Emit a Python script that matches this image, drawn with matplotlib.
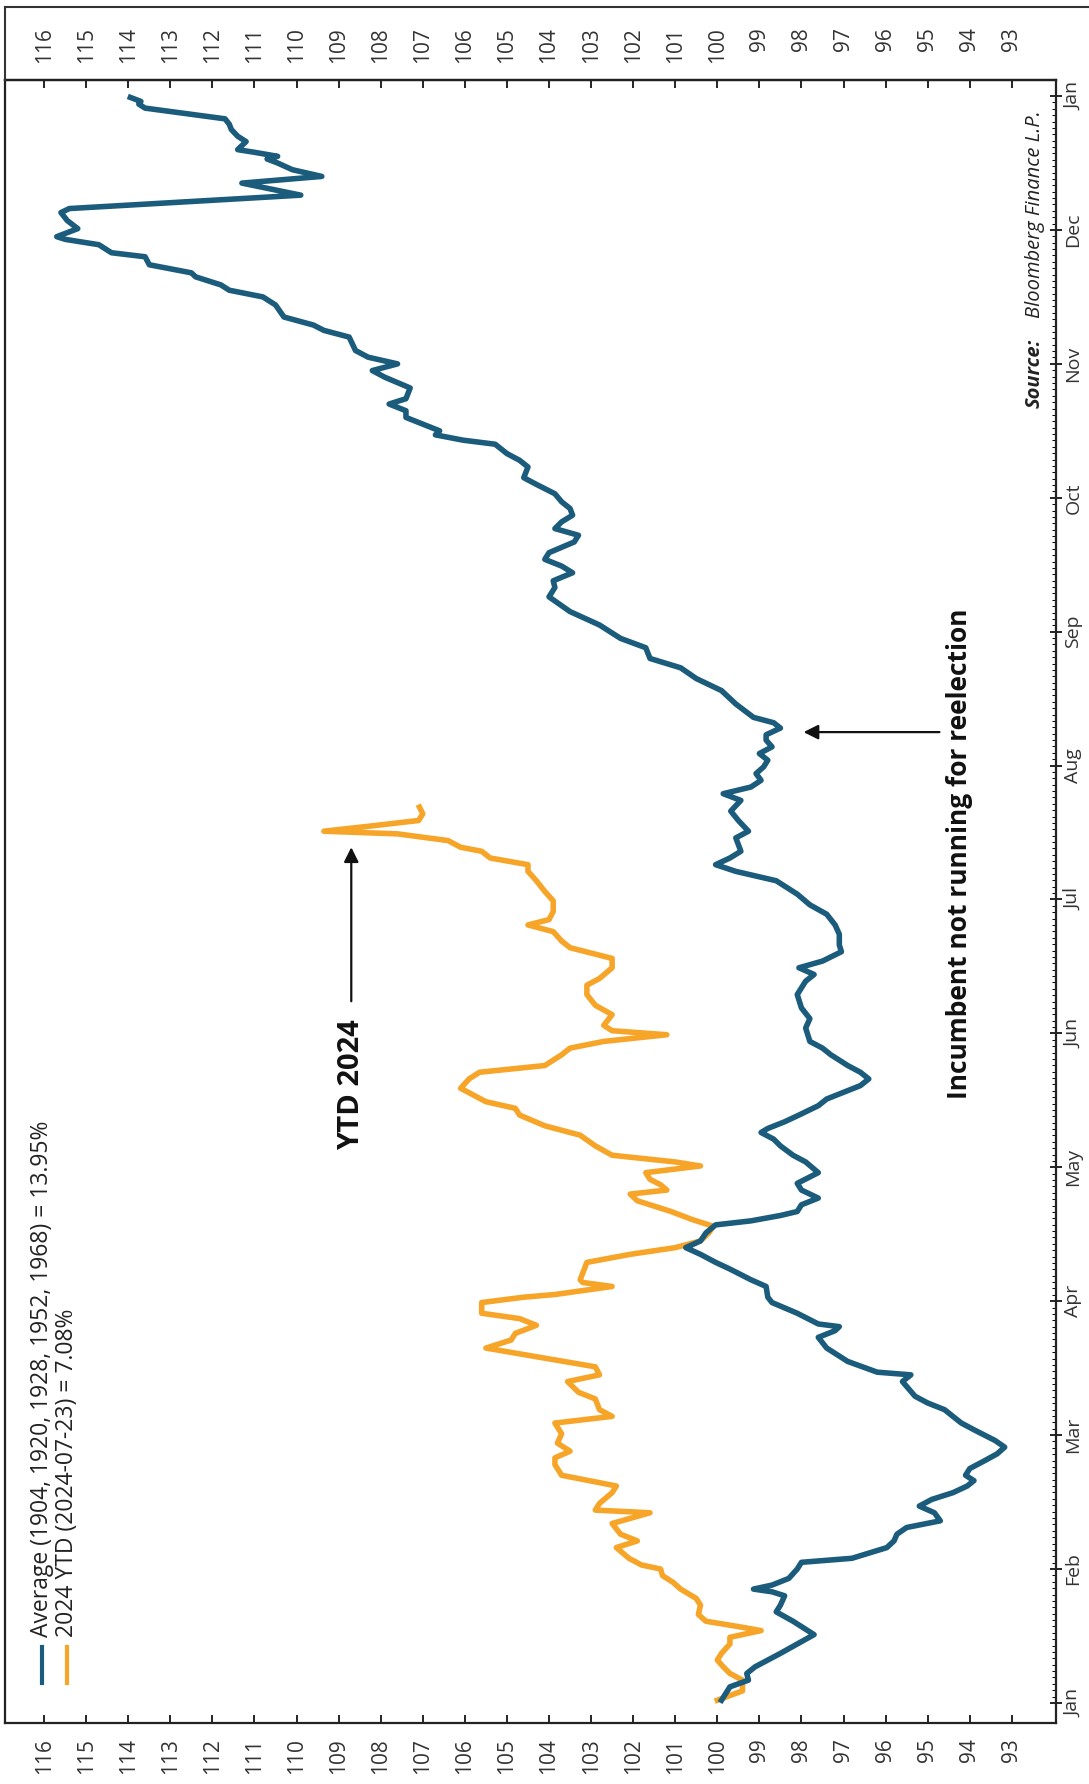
import matplotlib
matplotlib.use("Agg")
import matplotlib.pyplot as plt
from matplotlib.lines import Line2D
import numpy as np

plt.rcParams["font.family"] = ["Open Sans", "DejaVu Sans"]

# months along the (rotated) time axis, 0 = Jan 1st, 12 = next Jan 1st
month_labels = ["Jan", "Feb", "Mar", "Apr", "May", "Jun", "Jul",
                "Aug", "Sep", "Oct", "Nov", "Dec", "Jan"]
value_ticks = list(range(93, 117))

# average of years where the incumbent did not run (month position, index level)
avg_month = [
    0.02, 0.12, 0.17, 0.22, 0.27, 0.37, 0.44, 0.51, 0.55, 0.61, 0.68, 0.73,
    0.80, 0.83, 0.85, 0.88, 0.93, 1.00, 1.05, 1.08, 1.16, 1.21, 1.26, 1.31,
    1.36, 1.42, 1.47, 1.52, 1.57, 1.62, 1.66, 1.70, 1.75, 1.81, 1.86, 1.91,
    1.96, 2.04, 2.09, 2.14, 2.19, 2.24, 2.29, 2.40, 2.45, 2.47, 2.55, 2.65,
    2.73, 2.78, 2.81, 2.83, 2.91, 2.99, 3.03, 3.11, 3.16, 3.24, 3.29, 3.35,
    3.40, 3.45, 3.51, 3.57, 3.60, 3.64, 3.67, 3.72, 3.77, 3.83, 3.88, 3.96,
    4.04, 4.09, 4.16, 4.21, 4.26, 4.29, 4.34, 4.39, 4.46, 4.51, 4.56, 4.61,
    4.66, 4.71, 4.76, 4.84, 4.89, 4.94, 5.04, 5.11, 5.19, 5.29, 5.39, 5.44,
    5.49, 5.54, 5.61, 5.66, 5.74, 5.81, 5.89, 5.96, 6.04, 6.14, 6.21, 6.26,
    6.31, 6.36, 6.46, 6.51, 6.59, 6.66, 6.74, 6.79, 6.84, 6.89, 6.94, 6.99,
    7.04, 7.09, 7.14, 7.19, 7.23, 7.28, 7.32, 7.36, 7.46, 7.56, 7.65, 7.73,
    7.80, 7.88, 7.95, 8.05, 8.15, 8.26, 8.33, 8.38, 8.44, 8.49, 8.54, 8.59,
    8.67, 8.72, 8.77, 8.82, 8.87, 8.92, 8.97, 9.03, 9.10, 9.15, 9.23, 9.28,
    9.33, 9.40, 9.43, 9.47, 9.50, 9.60, 9.65, 9.70, 9.74, 9.82, 9.90, 9.95,
    10.00, 10.05, 10.10, 10.20, 10.25, 10.29, 10.35, 10.44, 10.50, 10.55,
    10.59, 10.65, 10.68, 10.74, 10.80, 10.83, 10.89, 10.93, 10.95, 11.01,
    11.07, 11.13, 11.16, 11.26, 11.35, 11.40, 11.45, 11.50, 11.53, 11.55,
    11.58, 11.60, 11.66, 11.70, 11.75, 11.79, 11.83, 11.87, 11.91, 11.94,
    11.96, 11.99,
]
avg_value = [
    99.9, 99.7, 99.26, 99.3, 99.1, 98.5, 98.1, 97.7, 97.9, 98.2, 98.6, 98.5,
    98.4, 98.7, 99.14, 98.7, 98.3, 98.1, 98.0, 96.8, 95.97, 95.8, 95.73, 95.5,
    94.7, 94.84, 95.2, 94.9, 94.4, 94.06, 93.9, 94.1, 94.0, 93.64, 93.35, 93.17,
    93.4, 93.9, 94.2, 94.4, 94.6, 95.0, 95.3, 95.6, 95.4, 96.2, 96.9, 97.4,
    97.6, 97.2, 97.1, 97.6, 98.1, 98.7, 98.8, 98.84, 99.2, 99.7, 100.04, 100.4,
    100.75, 100.4, 100.27, 100.04, 99.2, 98.5, 98.1, 98.0, 97.6, 98.0, 98.1, 97.6,
    97.9, 98.2, 98.5, 98.66, 98.96, 98.8, 98.4, 98.06, 97.6, 97.4, 97.0, 96.6,
    96.4, 96.6, 96.9, 97.3, 97.5, 97.8, 97.9, 97.8, 98.0, 98.1, 97.9, 97.7,
    98.06, 97.5, 97.05, 97.1, 97.1, 97.2, 97.4, 97.8, 98.1, 98.6, 99.56, 100.04,
    99.7, 99.44, 99.56, 99.26, 99.5, 99.68, 99.44, 99.86, 99.2, 98.96, 99.08, 98.9,
    98.8, 99.0, 98.7, 98.84, 98.84, 98.5, 98.66, 99.14, 99.56, 99.9, 100.5, 100.87,
    101.6, 101.7, 102.3, 102.8, 103.5, 104.0, 103.86, 103.9, 103.44, 103.7, 104.1, 104.0,
    103.4, 103.3, 103.86, 103.7, 103.44, 103.5, 103.7, 103.86, 104.3, 104.6, 104.5, 104.7,
    105.0, 105.28, 106.04, 106.7, 106.6, 107.4, 107.4, 107.8, 107.4, 107.3, 107.9, 108.2,
    107.6, 108.3, 108.6, 108.75, 109.35, 109.6, 110.3, 110.5, 110.8, 111.6,
    111.8, 112.4, 112.5, 113.5, 113.6, 114.4, 114.7, 115.5, 115.7, 115.2,
    115.45, 115.6, 115.4, 109.9, 111.3, 109.4, 110.1, 110.45, 110.7, 110.45,
    111.0, 111.4, 111.2, 111.4, 111.55, 111.6, 111.7, 112.65, 113.6, 113.75,
    113.7, 113.95,
]

# 2024 year to date (month position, index level)
ytd_month = [
    0.02, 0.09, 0.13, 0.17, 0.22, 0.27, 0.32, 0.37, 0.44, 0.49, 0.54, 0.57,
    0.61, 0.66, 0.73, 0.78, 0.85, 0.90, 0.95, 1.00, 1.03, 1.08, 1.16, 1.21,
    1.26, 1.34, 1.42, 1.44, 1.49, 1.57, 1.62, 1.70, 1.78, 1.83, 1.88, 1.94,
    2.01, 2.09, 2.14, 2.19, 2.27, 2.32, 2.40, 2.45, 2.51, 2.58, 2.65, 2.71,
    2.76, 2.82, 2.87, 2.91, 2.99, 3.03, 3.05, 3.11, 3.14, 3.16, 3.29, 3.35,
    3.40, 3.45, 3.51, 3.56, 3.61, 3.67, 3.75, 3.80, 3.83, 3.87, 3.91, 3.96,
    4.01, 4.04, 4.09, 4.16, 4.24, 4.31, 4.39, 4.44, 4.49, 4.54, 4.59, 4.66,
    4.71, 4.76, 4.84, 4.89, 4.94, 4.99, 5.02, 5.06, 5.14, 5.21, 5.29, 5.36,
    5.41, 5.49, 5.56, 5.64, 5.69, 5.76, 5.81, 5.85, 5.91, 5.99, 6.06, 6.14,
    6.21, 6.26, 6.31, 6.36, 6.39, 6.44, 6.49, 6.51, 6.55, 6.59, 6.64, 6.69,
]
ytd_value = [
    100.0, 99.4, 99.4, 99.4, 99.7, 99.86, 100.0, 99.9, 99.7, 99.7, 98.96, 99.5,
    100.27, 100.45, 100.4, 100.5, 100.87, 101.05, 101.3, 101.35, 101.8, 102.1, 102.4, 101.9,
    102.3, 102.5, 101.6, 102.9, 102.8, 102.5, 102.4, 103.7, 103.86, 103.86, 103.5, 103.8,
    103.7, 103.86, 102.5, 102.8, 102.9, 103.3, 103.56, 102.8, 102.9, 104.2, 105.5, 104.9,
    104.8, 104.3, 104.7, 105.6, 105.6, 104.6, 103.86, 102.5, 103.2, 103.26, 103.1, 102.07,
    101.0, 100.4, 100.2, 100.1, 100.6, 101.1, 101.9, 102.07, 101.2, 101.35, 101.6, 101.7,
    100.4, 101.0, 102.5, 102.9, 103.26, 104.1, 104.7, 104.8, 105.5, 105.8, 106.1, 105.9,
    105.65, 104.1, 103.7, 103.5, 102.7, 101.2, 102.5, 102.7, 102.5, 102.9, 103.1, 103.1,
    102.8, 102.5, 102.5, 103.5, 103.7, 103.9, 104.5, 104.0, 103.9, 103.9, 104.1, 104.3,
    104.5, 104.5, 105.4, 105.6, 106.1, 106.4, 107.6, 109.35, 108.2, 107.1, 107.0, 107.08,
]

avg_label = "Average (1904, 1920, 1928, 1952, 1968) = 13.95%"
ytd_label = "2024 YTD (2024-07-23) = 7.08%"

BLUE = "#1b5c7c"
ORANGE = "#f7a528"
TEXT = "#333333"

W, H = 1089, 1784
fig = plt.figure(figsize=(W / 100, H / 100), dpi=100)
# chart is drawn turned a quarter turn: values run right-to-left, time runs upward
ax = fig.add_axes([5 / W, 61 / H, 1051 / W, 1643 / H])

ax.plot(ytd_value, ytd_month, color=ORANGE, lw=4, solid_joinstyle="round")
ax.plot(avg_value, avg_month, color=BLUE, lw=4, solid_joinstyle="round")

ax.set_xlim(116.93, 91.95)
ax.set_ylim(-0.15, 12.12)

for side in ax.spines.values():
    side.set_linewidth(1.6)
    side.set_color("#222222")

# value ticks, bottom
ax.set_xticks(value_ticks)
ax.set_xticklabels([str(v) for v in value_ticks])
ax.tick_params(axis="x", direction="in", length=6, width=1.2, pad=11,
               labelsize=15, labelrotation=90, labelcolor=TEXT)

# value ticks, top (labels hang from the top edge)
top = ax.secondary_xaxis("top")
top.set_xticks(value_ticks)
top.set_xticklabels([str(v) for v in value_ticks])
top.tick_params(direction="in", length=6, width=1.2, pad=38,
                labelsize=15, labelrotation=90, labelcolor=TEXT)
top.spines["top"].set_linewidth(1.6)
for t in top.get_xticklabels():
    t.set_va("top")

# month ticks on the right
ax.yaxis.tick_right()
ax.set_yticks(range(len(month_labels)))
ax.set_yticklabels(month_labels)
ax.set_yticks(np.arange(0, 12, 12 / 252), minor=True)
ax.tick_params(axis="y", which="major", direction="inout", length=8, width=1.2,
               pad=2, labelsize=14, labelrotation=90, labelcolor=TEXT)
ax.tick_params(axis="y", which="minor", direction="in", length=3, width=0.7)
for t in ax.get_yticklabels():
    t.set_va("center")

# legend, drawn by hand so it can be turned with the chart
for i, (label, color) in enumerate([(avg_label, BLUE), (ytd_label, ORANGE)]):
    xf = 0.0352 + i * 0.0238
    ax.add_line(Line2D([xf, xf], [0.0243, 0.0463], transform=ax.transAxes,
                       color=color, lw=3))
    ax.text(xf, 0.0523, label, transform=ax.transAxes, rotation=90,
            ha="center", va="bottom", fontsize=16.5, color="#222222")

# annotations
ax.text(108.7, 4.62, "YTD 2024", rotation=90, ha="center", va="center",
        fontsize=21, fontweight="bold", color="#111111")
ax.annotate("", xy=(108.7, 6.39), xytext=(108.7, 5.24),
            arrowprops=dict(arrowstyle="-|>", color="#111111", lw=1.6,
                            mutation_scale=22, shrinkA=0, shrinkB=0))

ax.text(94.25, 6.34, "Incumbent not running for reelection", rotation=90,
        ha="center", va="center", fontsize=19, fontweight="bold",
        color="#111111")
ax.annotate("", xy=(97.95, 7.25), xytext=(94.72, 7.25),
            arrowprops=dict(arrowstyle="-|>", color="#111111", lw=1.6,
                            mutation_scale=22, shrinkA=0, shrinkB=0))

ax.text(92.45, 9.67, "Source:", rotation=90, ha="center", va="bottom",
        fontsize=14.5, fontweight="bold", fontstyle="italic", color="#222222")
ax.text(92.45, 11.89, "Bloomberg Finance L.P.", rotation=90, ha="center",
        va="top", fontsize=14.5, fontstyle="italic", color="#222222")

# outer frame lines (top and left) of the original page
fig.add_artist(Line2D([5 / W, 1], [1 - 7 / H, 1 - 7 / H],
                      transform=fig.transFigure, color="#333333", lw=1.5))
fig.add_artist(Line2D([5 / W, 5 / W], [1 - 7 / H, 1 - 80 / H],
                      transform=fig.transFigure, color="#333333", lw=1.5))

fig.savefig("out.png", dpi=100, facecolor="white")
